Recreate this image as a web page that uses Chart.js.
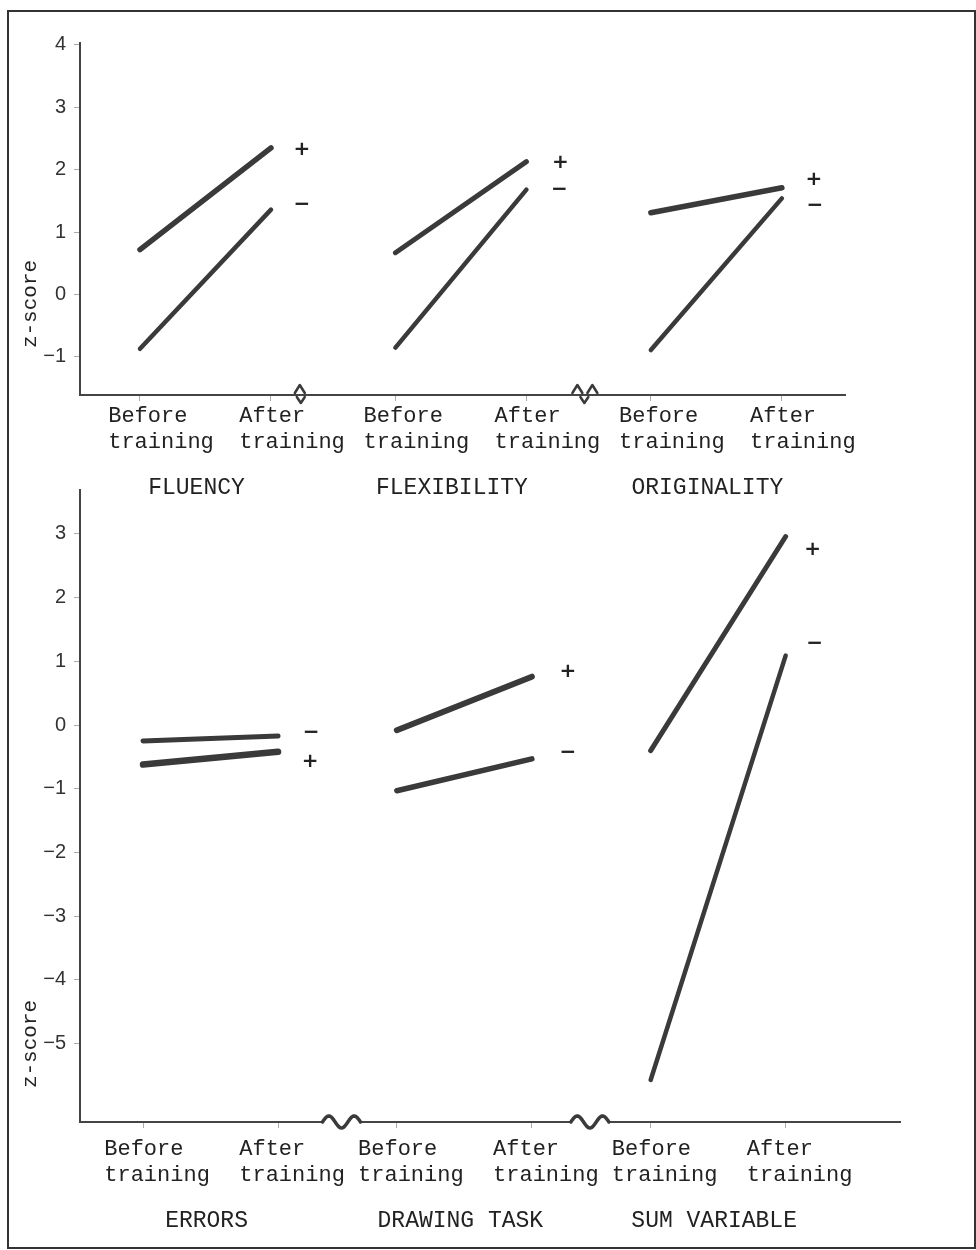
<!DOCTYPE html>
<html><head><meta charset="utf-8">
<script src="https://cdn.jsdelivr.net/npm/chart.js@4"></script>
<style>
html,body{margin:0;padding:0;background:#fff;}
#wrap{position:relative;width:976px;height:1250px;overflow:hidden;background:#fff;}
#c1{position:absolute;left:0;top:0;}
#c2{position:absolute;left:0;top:470px;}
#frame{position:absolute;left:7px;top:10px;width:969px;height:1239px;box-sizing:border-box;border:2px solid #333;pointer-events:none;}
</style></head>
<body><div id="wrap"><canvas id="c1" width="976" height="515"></canvas><canvas id="c2" width="976" height="780"></canvas><div id="frame"></div></div>
<script>
// ---- data ----
const tickLabels = [['Before  ', 'training'], ['After   ', 'training']];

const topGroups = ['FLUENCY', 'FLEXIBILITY', 'ORIGINALITY'];
const topPlusBefore  = [0.72, 0.67, 1.31];
const topPlusAfter   = [2.35, 2.13, 1.71];
const topMinusBefore = [-0.87, -0.85, -0.89];
const topMinusAfter  = [1.36, 1.68, 1.54];
const topYTicks = [-1, 0, 1, 2, 3, 4];

const botGroups = ['ERRORS', 'DRAWING TASK', 'SUM VARIABLE'];
const botPlusBefore  = [-0.62, -0.08, -0.40];
const botPlusAfter   = [-0.42, 0.76, 2.96];
const botMinusBefore = [-0.25, -1.03, -5.57];
const botMinusAfter  = [-0.17, -0.53, 1.09];
const botYTicks = [-5, -4, -3, -2, -1, 0, 1, 2, 3];

// ---- layout / style ----
const INK = '#3a3a3a';
const topStyle = {
  slots: [1, 2, 2.95, 3.95, 4.9, 5.9], xMin: 0.542, xMax: 6.382, yMin: -1.61, yMax: 4.03,
  padding: {top: 43, right: 131, bottom: 0, left: 0}, tickH: 70, groupH: 50,
  tickPad: 2, labelOffset: 21, groupPad: 9, groupOffset: -9,
  plusW: [5.5, 5, 5.5], minusW: [4.5, 4.5, 4.5],
  plusMark: [[31, 2], [34, 1], [32, -8]], minusMark: [[31, -5], [33, 0], [33, 7]],
  breaks: [{x: 2.22, kind: 'caret'}, {x: 4.40, kind: 'double'}],
  titleY: 304
};
const botStyle = {
  slots: [1, 2, 2.88, 3.88, 4.76, 5.76], xMin: 0.533, xMax: 6.607, yMin: -6.23, yMax: 3.69,
  padding: {top: 20, right: 76, bottom: 0, left: 0}, tickH: 70, groupH: 58,
  tickPad: 8, labelOffset: 14, groupPad: 15, groupOffset: -4,
  plusW: [6.5, 6, 5], minusW: [5, 5.5, 4.5],
  plusMark: [[32, 10], [36, -5], [27, 13]], minusMark: [[33, -3], [36, -6], [29, -12]],
  breaks: [{x: 2.47, kind: 'wave'}, {x: 4.31, kind: 'wave'}],
  titleY: 574
};

function fmtY(v) { return v < 0 ? '\u2212' + (-v) : String(v); }

function build(id, groups, pb, pa, mb, ma, yTicks, st) {
  const datasets = [];
  groups.forEach((g, i) => {
    const common = {borderColor: INK, backgroundColor: INK, pointRadius: 0, borderCapStyle: 'round', fill: false, tension: 0};
    datasets.push(Object.assign({label: '+', data: [{x: st.slots[2*i], y: pb[i]}, {x: st.slots[2*i+1], y: pa[i]}], borderWidth: st.plusW[i], mark: st.plusMark[i]}, common));
    datasets.push(Object.assign({label: '\u2212', data: [{x: st.slots[2*i], y: mb[i]}, {x: st.slots[2*i+1], y: ma[i]}], borderWidth: st.minusW[i], mark: st.minusMark[i]}, common));
  });
  const groupCenters = groups.map((g, i) => (st.slots[2*i] + st.slots[2*i+1]) / 2);

  const markPlugin = {
    id: 'marks',
    afterDatasetsDraw(chart) {
      const ctx = chart.ctx;
      ctx.save();
      ctx.fillStyle = '#222';
      ctx.font = 'bold 20px "DejaVu Sans"';
      ctx.textAlign = 'center';
      ctx.textBaseline = 'middle';
      chart.data.datasets.forEach((ds, i) => {
        const pt = chart.getDatasetMeta(i).data[1];
        ctx.fillText(ds.label, pt.x + ds.mark[0], pt.y + ds.mark[1]);
      });
      ctx.restore();
    }
  };
  const breakPlugin = {
    id: 'breaks',
    afterDraw(chart) {
      const ctx = chart.ctx, xs = chart.scales.x, y = chart.chartArea.bottom;
      ctx.save();
      ctx.strokeStyle = INK; ctx.lineCap = 'round'; ctx.lineJoin = 'round';
      st.breaks.forEach(b => {
        const px = xs.getPixelForValue(b.x);
        if (b.kind === 'caret') {
          ctx.lineWidth = 2.5;
          ctx.beginPath(); ctx.moveTo(px - 5, y - 2); ctx.lineTo(px, y - 10); ctx.lineTo(px + 5, y - 2); ctx.stroke();
          ctx.beginPath(); ctx.moveTo(px - 3, y + 2); ctx.lineTo(px + 1, y + 8); ctx.lineTo(px + 5, y + 2); ctx.stroke();
        } else if (b.kind === 'double') {
          ctx.lineWidth = 2.5;
          ctx.beginPath(); ctx.moveTo(px - 13, y - 2); ctx.lineTo(px - 8, y - 10); ctx.lineTo(px - 3, y - 2); ctx.stroke();
          ctx.beginPath(); ctx.moveTo(px + 2, y - 2); ctx.lineTo(px + 7, y - 10); ctx.lineTo(px + 12, y - 2); ctx.stroke();
          ctx.beginPath(); ctx.moveTo(px - 5, y + 2); ctx.lineTo(px - 1, y + 8); ctx.lineTo(px + 3, y + 2); ctx.stroke();
        } else {
          ctx.fillStyle = '#fff';
          ctx.fillRect(px - 19, y - 3, 38, 6);
          ctx.lineWidth = 3.5;
          ctx.beginPath();
          for (let k = 0; k <= 40; k++) {
            const t = k / 40;
            const xx = px - 19 + 38 * t;
            const yy = y - 6 * Math.sin(t * Math.PI * 3);
            if (k === 0) ctx.moveTo(xx, yy); else ctx.lineTo(xx, yy);
          }
          ctx.stroke();
        }
      });
      ctx.restore();
    }
  };
  const titlePlugin = {
    id: 'ytitle',
    afterDraw(chart) {
      const ctx = chart.ctx;
      ctx.save();
      ctx.translate(30, st.titleY);
      ctx.rotate(-Math.PI / 2);
      ctx.fillStyle = '#222';
      ctx.font = '21px "Liberation Mono"';
      ctx.textAlign = 'center';
      ctx.textBaseline = 'middle';
      ctx.fillText('z-score', 0, 0);
      ctx.restore();
    }
  };

  return new Chart(document.getElementById(id), {
    type: 'line',
    data: {datasets},
    plugins: [markPlugin, breakPlugin, titlePlugin],
    options: {
      responsive: false, animation: false, devicePixelRatio: 1,
      layout: {padding: st.padding},
      plugins: {legend: {display: false}, tooltip: {enabled: false}, title: {display: false}},
      scales: {
        x: {
          type: 'linear', position: 'bottom', min: st.xMin, max: st.xMax,
          afterBuildTicks: s => { s.ticks = st.slots.map(v => ({value: v})); },
          afterFit: s => { s.height = st.tickH; },
          ticks: {
            callback: (v, i) => tickLabels[i % 2], autoSkip: false, maxRotation: 0, minRotation: 0,
            font: {family: '"Liberation Mono"', size: 22, lineHeight: 1.2}, color: '#222',
            padding: st.tickPad, labelOffset: st.labelOffset
          },
          grid: {drawOnChartArea: false, drawTicks: true, tickLength: 6, color: '#aaa', lineWidth: 1},
          border: {color: '#444', width: 2}
        },
        x2: {
          type: 'linear', position: 'bottom', min: st.xMin, max: st.xMax,
          afterBuildTicks: s => { s.ticks = groupCenters.map(v => ({value: v})); },
          afterFit: s => { s.height = st.groupH; },
          ticks: {
            callback: (v, i) => groups[i], autoSkip: false, maxRotation: 0, minRotation: 0,
            font: {family: '"Liberation Mono"', size: 23}, color: '#222',
            padding: st.groupPad, labelOffset: st.groupOffset
          },
          grid: {display: false, drawTicks: false},
          border: {display: false}
        },
        y: {
          type: 'linear', min: st.yMin, max: st.yMax,
          afterBuildTicks: s => { s.ticks = yTicks.map(v => ({value: v})); },
          afterFit: s => { s.width = 80; },
          ticks: {callback: v => fmtY(v), font: {family: '"Liberation Sans"', size: 20}, color: '#333', padding: 8},
          grid: {drawOnChartArea: false, drawTicks: true, tickLength: 6, color: '#aaa', lineWidth: 1},
          border: {color: '#444', width: 2}
        }
      }
    }
  });
}

build('c1', topGroups, topPlusBefore, topPlusAfter, topMinusBefore, topMinusAfter, topYTicks, topStyle);
build('c2', botGroups, botPlusBefore, botPlusAfter, botMinusBefore, botMinusAfter, botYTicks, botStyle);
</script>
</body></html>
